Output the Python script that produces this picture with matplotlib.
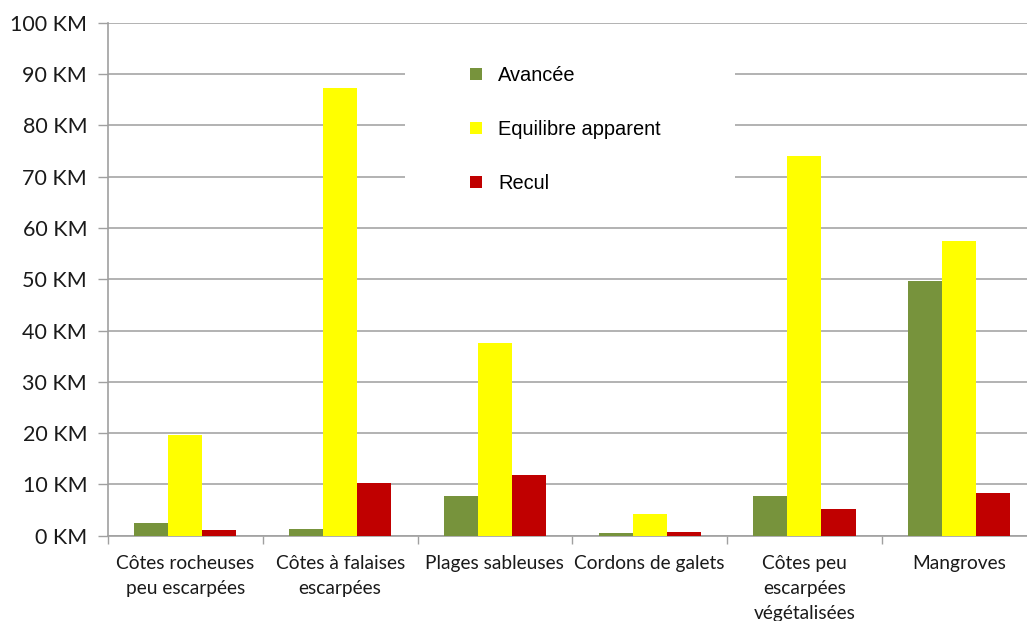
import matplotlib
matplotlib.use("Agg")
import matplotlib.pyplot as plt
from matplotlib.patches import Patch, Rectangle
import numpy as np

categories = ["Côtes rocheuses\npeu escarpées", "Côtes à falaises\nescarpées",
              "Plages sableuses", "Cordons de galets",
              "Côtes peu\nescarpées\nvégétalisées", "Mangroves"]
series_names = ["Avancée", "Equilibre apparent", "Recul"]
avancee = [2.4, 1.4, 7.7, 0.5, 7.7, 49.7]
equilibre = [19.6, 87.3, 37.5, 4.2, 74.0, 57.4]
recul = [1.1, 10.3, 11.8, 0.8, 5.2, 8.3]
yticks = [0, 10, 20, 30, 40, 50, 60, 70, 80, 90, 100]
ytick_labels = [f"{v} KM" for v in yticks]
colors = ["#77933C", "#FFFF00", "#C00000"]

W, H = 1027, 621
fig = plt.figure(figsize=(W / 100, H / 100), dpi=100)
ax = fig.add_axes([108 / W, 1 - 535.7 / H, (1036.6 - 108) / W, (535.7 - 22.7) / H])

x = np.arange(len(categories)) + 0.5
bw = 0.22
for k, (vals, col) in enumerate(zip([avancee, equilibre, recul], colors)):
    ax.bar(x + (k - 1) * bw, vals, width=bw, color=col, zorder=3, linewidth=0)

ax.set_xlim(0, len(categories))
ax.set_ylim(0, 100)
ax.set_yticks(yticks)
ax.set_yticklabels(ytick_labels, fontsize=15.5, fontfamily="Lato", color="#1a1a1a")
ax.set_xticks(np.arange(len(categories) + 1))
ax.set_xticklabels([])
ax.set_xticks(x, minor=True)
ax.set_xticklabels(categories, minor=True, fontsize=13.8, fontfamily="Lato",
                   color="#1a1a1a", linespacing=1.55)
ax.tick_params(axis="x", which="minor", length=0, pad=14)
ax.tick_params(axis="x", which="major", length=6, color="#a0a0a0", width=1)
ax.tick_params(axis="y", length=7, color="#a0a0a0", width=1, pad=8)
ax.yaxis.grid(True, color="#a6a6a6", linewidth=1.2, zorder=0)
ax.set_axisbelow(True)
for s in ["top", "right"]:
    ax.spines[s].set_visible(False)
for s in ["left", "bottom"]:
    ax.spines[s].set_color("#a0a0a0")
    ax.spines[s].set_linewidth(1.2)

# white legend background box
fig.patches.append(Rectangle((405 / W, 1 - 205 / H), (735 - 405) / W, (205 - 45) / H,
                             transform=fig.transFigure, facecolor="white",
                             edgecolor="none", zorder=1))

handles = [Patch(facecolor=c, edgecolor="none") for c in colors]
leg = fig.legend(handles, series_names, loc="upper left",
                 bbox_to_anchor=(470 / W, 1 - 66 / H),
                 frameon=False,
                 prop={"family": "Liberation Sans", "size": 14.4},
                 handlelength=0.6, handleheight=0.6, handletextpad=0.8,
                 labelspacing=1.75, borderpad=0, borderaxespad=0)
leg.set_zorder(5)

fig.savefig("out.png", dpi=100, facecolor="white")
